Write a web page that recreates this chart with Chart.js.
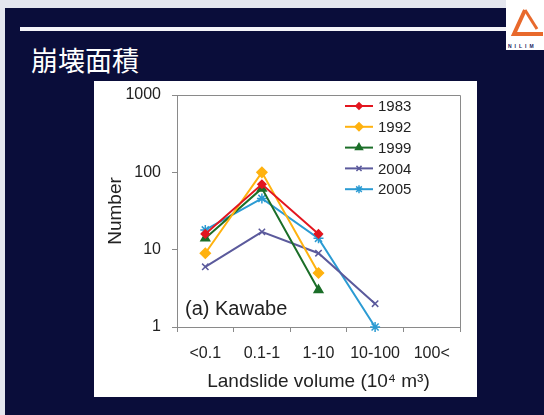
<!DOCTYPE html>
<html>
<head>
<meta charset="utf-8">
<script src="https://cdn.jsdelivr.net/npm/chart.js@4/dist/chart.umd.min.js"></script>
<style>
  html, body { margin: 0; padding: 0; }
  body { width: 544px; height: 415px; background: #e4e6ee; position: relative; overflow: hidden; }
  #slide { position: absolute; left: 5px; top: 8px; width: 539px; height: 407px; background: #0a0d3a; }
  #rule { position: absolute; left: 20px; top: 27px; width: 490px; height: 4px; background: #f4f4f8; }
  #title { position: absolute; left: 31px; top: 40px; color: #fff; font: 27px "Noto Sans CJK JP", sans-serif; }
  #logo { position: absolute; left: 506px; top: 0; width: 38px; height: 50px; background: #fff; }
  #box { position: absolute; left: 94px; top: 81px; width: 383px; height: 316px; background: #fff; }
</style>
</head>
<body>
<div id="slide"></div>
<div id="rule"></div>
<div id="title">崩壊面積</div>
<div id="logo">
  <svg width="38" height="50" viewBox="0 0 38 50">
    <path d="M19 10 L8 34 L37 34" fill="none" stroke="#e8692c" stroke-width="4"/>
    <path d="M19 10 L31 29" fill="none" stroke="#e8692c" stroke-width="3"/>
    <text x="2" y="48" font-family="Liberation Sans" font-size="5" font-weight="bold" fill="#1a2060" letter-spacing="3">NILIM</text>
  </svg>
</div>
<div id="box"><canvas id="chart" width="383" height="316"></canvas></div>
<script>
// ===========================
// Landslide volume distribution, Kawabe
// ===========================

const volumeClasses = ['<0.1', '0.1-1', '1-10', '10-100', '100<'];
const yearLabels = ['1983', '1992', '1999', '2004', '2005'];
const counts1983 = [16, 70, 16, null, null];
const counts1992 = [9, 100, 5, null, null];
const counts1999 = [14, 62, 3, null, null];
const counts2004 = [6, 17, 9, 2, null];
const counts2005 = [18, 46, 14, 1, null];
const yTickValues = [1, 10, 100, 1000];

const FONT = '"Liberation Sans", Arial, sans-serif';

const styles = [
    { color: '#e3161f', point: 'rectRot', radius: 4 },
    { color: '#ffb20f', point: 'rectRot', radius: 5 },
    { color: '#1b6e28', point: 'triangle', radius: 5 },
    { color: '#5b5a9c', point: 'crossRot', radius: 4.5 },
    { color: '#2b9bd3', point: 'star', radius: 5 },
];
const series = [counts1983, counts1992, counts1999, counts2004, counts2005];

const datasets = series.map((values, i) => ({
    label: yearLabels[i],
    data: values,
    borderColor: styles[i].color,
    backgroundColor: styles[i].color,
    pointBorderColor: styles[i].color,
    pointBackgroundColor: styles[i].color,
    pointStyle: styles[i].point,
    pointRadius: styles[i].radius,
    pointBorderWidth: 1.5,
    borderWidth: 2,
    tension: 0,
    clip: false,
}));

// frame, in-plot label and legend drawn onto the canvas
const decorations = {
    id: 'decorations',
    afterDraw(chart) {
        const { ctx, chartArea: a } = chart;
        ctx.save();
        ctx.strokeStyle = '#8a8a8a';
        ctx.lineWidth = 1;
        ctx.beginPath();
        ctx.moveTo(a.left, a.top + 0.5);
        ctx.lineTo(a.right + 0.5, a.top + 0.5);
        ctx.lineTo(a.right + 0.5, a.bottom);
        ctx.stroke();

        ctx.fillStyle = '#222';
        ctx.font = '20px ' + FONT;
        ctx.textBaseline = 'middle';
        ctx.fillText('(a) Kawabe', 91, 228);

        ctx.font = '15px ' + FONT;
        chart.data.datasets.forEach((ds, i) => {
            const y = 25 + i * 20.8;
            ctx.strokeStyle = ds.borderColor;
            ctx.lineWidth = 2;
            ctx.beginPath();
            ctx.moveTo(251, y);
            ctx.lineTo(279, y);
            ctx.stroke();
            ctx.fillStyle = ds.pointBackgroundColor;
            ctx.strokeStyle = ds.pointBorderColor;
            ctx.lineWidth = 1.5;
            Chart.helpers.drawPoint(ctx, {
                pointStyle: ds.pointStyle,
                radius: ds.pointRadius * 0.8,
                rotation: 0,
                borderWidth: 1.5,
            }, 265, y);
            ctx.fillStyle = '#222';
            ctx.fillText(ds.label, 284, y + 1);
        });
        ctx.restore();
    },
};

new Chart(document.getElementById('chart').getContext('2d'), {
    type: 'line',
    data: { labels: volumeClasses, datasets: datasets },
    options: {
        responsive: false,
        animation: false,
        layout: { padding: { top: 14, right: 17, left: 0, bottom: 0 } },
        plugins: {
            legend: { display: false },
            tooltip: { enabled: false },
        },
        scales: {
            x: {
                offset: true,
                grid: { offset: true, drawOnChartArea: false, tickLength: 5, color: '#8a8a8a' },
                border: { color: '#8a8a8a' },
                ticks: { color: '#222', font: { family: FONT, size: 16 }, padding: 12, maxRotation: 0 },
                title: {
                    display: true,
                    text: 'Landslide volume (10⁴ m³)',
                    color: '#222',
                    font: { family: FONT, size: 19 },
                    padding: { top: 0, bottom: 4 },
                },
                afterFit(scale) {
                    scale.height = 70;
                    scale.paddingLeft = 0;
                    scale.paddingRight = 0;
                },
            },
            y: {
                type: 'logarithmic',
                min: 1,
                max: 1000,
                grid: { drawOnChartArea: false, tickLength: 5, color: '#8a8a8a' },
                border: { color: '#8a8a8a' },
                afterBuildTicks(scale) {
                    scale.ticks = yTickValues.map(v => ({ value: v }));
                },
                ticks: {
                    color: '#222',
                    font: { family: FONT, size: 16 },
                    padding: 11,
                    callback: v => String(v),
                },
                title: {
                    display: true,
                    text: 'Number',
                    color: '#222',
                    font: { family: FONT, size: 19 },
                    padding: { top: 10, bottom: 0 },
                },
                afterFit(scale) {
                    scale.width = 83;
                    scale.paddingTop = 0;
                    scale.paddingBottom = 0;
                },
            },
        },
    },
    plugins: [decorations],
});
</script>
</body>
</html>
